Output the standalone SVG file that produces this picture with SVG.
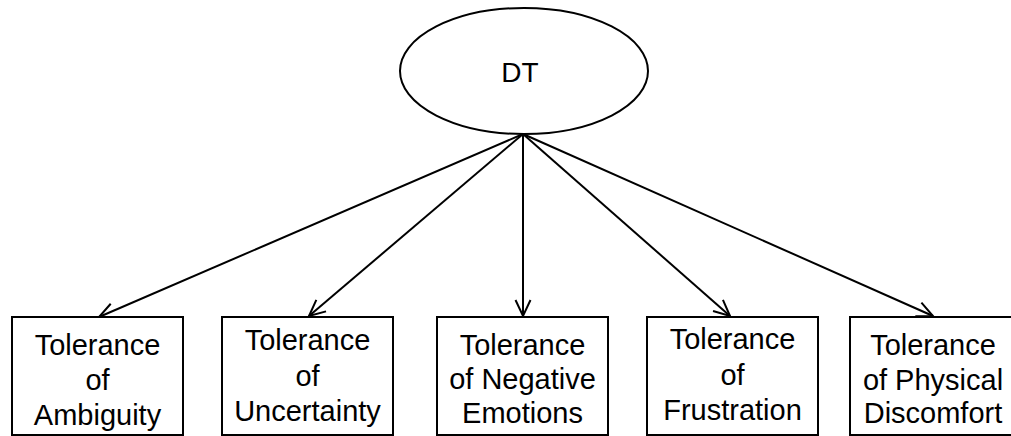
<svg xmlns="http://www.w3.org/2000/svg" width="1011" height="436" viewBox="0 0 1011 436">
  <style>
    .shape { fill: #ffffff; stroke: #000000; stroke-width: 2; }
    .edge { fill: none; stroke: #000000; stroke-width: 2; marker-end: url(#arrow); }
    .label { font-family: "Liberation Sans", Arial, sans-serif; font-size: 29px; fill: #000000; text-anchor: middle; }
  </style>
  <defs>
    <marker id="arrow" markerUnits="userSpaceOnUse" markerWidth="22" markerHeight="22" viewBox="0 0 22 22" refX="18" refY="11" orient="auto">
      <path d="M2,3.5 L18,11 L2,18.5" fill="none" stroke="#000000" stroke-width="2"/>
    </marker>
  </defs>
  <rect width="1011" height="436" fill="#ffffff"/>

  <!-- connectors from the latent factor to each facet -->
  <g id="connectors">
    <line class="edge" x1="523" y1="134" x2="99" y2="317"/>
    <line class="edge" x1="523" y1="134" x2="309" y2="316"/>
    <line class="edge" x1="523" y1="134" x2="523" y2="316"/>
    <line class="edge" x1="523" y1="134" x2="730" y2="316"/>
    <line class="edge" x1="523" y1="134" x2="933" y2="316"/>
  </g>

  <g id="node-dt">
    <ellipse class="shape" cx="524" cy="71" rx="124" ry="63"/>
    <text class="label" x="520" y="82" style="font-size:28px">DT</text>
  </g>

  <g id="node-ambiguity">
    <rect class="shape" x="12" y="317" width="171" height="118"/>
    <text class="label" x="97.5" y="355">Tolerance</text>
    <text class="label" x="97.5" y="390">of</text>
    <text class="label" x="97.5" y="425">Ambiguity</text>
  </g>

  <g id="node-uncertainty">
    <rect class="shape" x="222" y="317" width="171" height="118"/>
    <text class="label" x="307.5" y="350">Tolerance</text>
    <text class="label" x="307.5" y="386">of</text>
    <text class="label" x="307.5" y="421">Uncertainty</text>
  </g>

  <g id="node-negative-emotions">
    <rect class="shape" x="437" y="317" width="171" height="118"/>
    <text class="label" x="522.5" y="355">Tolerance</text>
    <text class="label" x="522.5" y="389">of Negative</text>
    <text class="label" x="522.5" y="423">Emotions</text>
  </g>

  <g id="node-frustration">
    <rect class="shape" x="647" y="317" width="171" height="118"/>
    <text class="label" x="732.5" y="349">Tolerance</text>
    <text class="label" x="732.5" y="385">of</text>
    <text class="label" x="732.5" y="420">Frustration</text>
  </g>

  <g id="node-physical-discomfort">
    <rect class="shape" x="850" y="317" width="171" height="118"/>
    <text class="label" x="933" y="355">Tolerance</text>
    <text class="label" x="933" y="390">of Physical</text>
    <text class="label" x="933" y="423">Discomfort</text>
  </g>
</svg>
